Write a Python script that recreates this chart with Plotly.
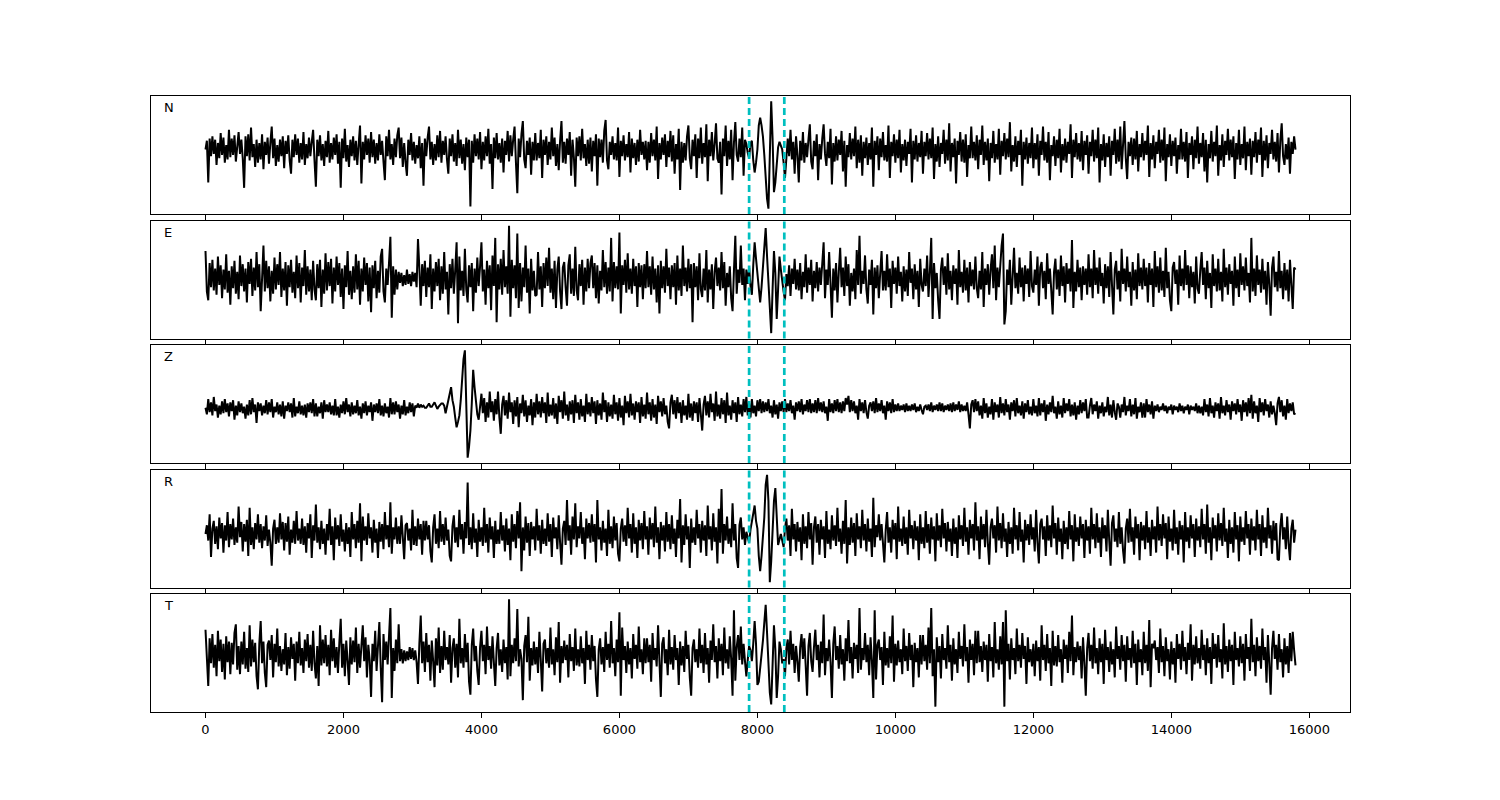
import plotly.graph_objects as go
from plotly.subplots import make_subplots

components = ["N", "E", "Z", "R", "T"]
sample_step = 20
pick_start = 7880
pick_end = 8390
x_ticks = [0, 2000, 4000, 6000, 8000, 10000, 12000, 14000, 16000]
x_tick_labels = ["0", "2000", "4000", "6000", "8000", "10000", "12000", "14000", "16000"]

N_trace = [
    0, 8, -30, 10, -6, 12, -4, 9, -14, 6, -8, 15, -5, 11, -12, 4, -9, 18, -7, 10,
    -5, 13, -11, 7, 16, -4, 9, -8, -35, 12, -6, 14, -10, 20, -7, 5, -16, 9, -12, 6,
    -9, 14, -18, 7, -5, 11, -13, 6, 21, -8, 10, -15, 4, -11, 9, -6, 12, -17, 8, -4,
    13, -10, -22, 9, -7, 14, -5, 10, -12, 6, -9, 16, -14, 5, -8, 11, -6, 7, 18, -10,
    -34, 9, -6, 13, -10, 5, -15, 8, -7, 17, -12, 6, -9, 11, -5, 14, -13, 7, -35, 10,
    -8, 19, -11, 4, -16, 9, -6, 12, -10, 8, -14, 5, 22, -31, 7, -9, 13, -5, 10, -12,
    16, -7, 9, -13, 6, -10, 14, -5, 8, -11, -28, 12, -6, 18, -9, 5, -14, 10, -7, 13,
    20, -8, 11, -16, 6, -12, -24, 9, -5, 15, -10, 7, -13, 4, -8, 12, -17, 6, -33, 10,
    -6, 11, 21, -9, 7, -14, 5, -10, 13, -7, 17, -12, 8, -5, 12, -9, -22, 10, -6, 14,
    -11, 6, -15, 18, -8, 9, -13, 5, -19, 11, -7, 9, -52, 8, -12, 14, -6, 10, -9, 16,
    -18, 7, -10, 12, -6, 19, -13, 5, -36, 11, -8, 15, -9, 6, -12, 10, -21, 8, -5, 17,
    -11, 13, -6, 9, 21, -12, -40, 10, -7, 14, 26, -9, -17, 8, -5, 11, -23, 7, -10, 15,
    -10, 6, -8, 18, -26, 9, -5, 12, -14, 7, -9, 20, -6, 11, -15, 5, -19, 8, 26, -12,
    7, -13, 10, -5, 16, -24, 9, -7, -34, 11, -6, 12, -10, 19, -8, 5, -15, 9, -13, 11,
    -20, 8, -6, 14, -33, 10, -7, 9, -12, 17, 27, -10, -18, 7, -5, 12, -9, 6, -10, 20,
    -25, 8, -6, 13, -10, 5, -7, 16, -21, 10, -8, 6, -14, 9, -11, 18, -5, 7, -9, 8,
    -19, 7, -12, 15, -6, 9, -10, 21, -27, 6, -9, 11, -5, 14, -16, 8, -7, 17, -11, 13,
    -22, 5, -9, 19, -37, 7, -12, 6, -10, 12, 22, -8, -18, 9, -6, 14, -26, 10, -8, 20,
    -13, 6, -7, 23, -29, 9, -6, 16, -10, 5, 24, -8, -12, 7, -41, 10, -6, 22, -15, 8,
    -9, 18, -28, 6, 25, -5, -11, 10, -7, 20, -24, 9, 5, -3, -8, 6, 8, -10, -21, -12,
    0, 22, 29, 22, 12, -5, -25, -45, -54, -5, 44, 10, -39, -30, -10, 2, 7, 4, 0, -12,
    -26, -8, 10, -6, 18, -9, 7, -22, 12, -5, -30, 8, -10, 16, -12, 6, -7, 9, 23, -11,
    -18, 8, -6, 14, -28, 5, -9, 10, 23, -4, -15, 7, -8, 19, -32, 6, -11, 12, -10, 9,
    -5, 17, -20, 8, -34, 4, -7, 15, -9, 10, -6, 21, -17, 9, -12, 13, -24, 7, -8, 11,
    -14, 6, -9, 20, -34, 8, -5, 12, -19, 10, -7, 16, -10, 4, -11, 22, -26, 7, -6, 14,
    -12, 9, -8, 18, -21, 5, -10, 9, -15, 7, -4, 19, -30, 8, -9, 13, -11, 6, -7, 17,
    -22, 7, -6, 15, -9, 10, -8, 20, -27, 5, -11, 12, -16, 6, -4, 18, -13, 9, -10, 24,
    -20, 6, -7, 10, -31, 8, -5, 16, -11, 9, -12, 14, -25, 4, -8, 21, -8, 7, -10, 13,
    -18, 9, -5, 22, -14, 7, -10, 10, -29, 6, -8, 17, -12, 5, -9, 19, -23, 8, -6, 15,
    -9, 10, -7, 25, -20, 4, -11, 12, -16, 8, -5, 18, -33, 7, -9, 11, -13, 6, -8, 20,
    -17, 6, -9, 14, -24, 8, -5, 21, -10, 7, -12, 16, -28, 4, -6, 12, -15, 9, -8, 19,
    -21, 5, -10, 10, -12, 7, -4, 23, -26, 9, -7, 15, -9, 6, -11, 17, -19, 8, -5, 13,
    -22, 7, -6, 18, -11, 9, -8, 20, -30, 5, -10, 14, -16, 6, -7, 12, -24, 8, -5, 19,
    -13, 9, -11, 21, -18, 4, 26, -8, -27, 7, -6, 11, -14, 10, -9, 17, -20, 5, -7, 15,
    -10, 8, -5, 22, -25, 6, -9, 13, -17, 7, -4, 18, -12, 9, -10, 20, -29, 5, -7, 14,
    -15, 8, -6, 11, -22, 4, -9, 19, -9, 7, -11, 16, -26, 6, -5, 12, -18, 9, -8, 21,
    -13, 6, -7, 15, -20, 9, -30, 5, -8, 17, -11, 7, -6, 22, -24, 4, -10, 14, -16, 8,
    -5, 19, -10, 9, -7, 12, -27, 6, -9, 18, -14, 5, -8, 21, -19, 7, -6, 10, -23, 8,
    -7, 16, -12, 9, -5, 20, -25, 8, -10, 13, -17, 6, -4, 18, -9, 7, -11, 15, -21, 8,
    24, -6, -14, 5, -9, 11, -22, 7, -4, 12, 0,
]

E_trace = [
    25, -12, -20, 14, -8, 17, -11, 9, -15, 20, -6, 12, -18, 8, -10, 22, -13, 7, -24, 11,
    -9, 16, -14, 6, -19, 21, -7, 13, -12, 9, -22, 15, -5, 18, -16, 10, -11, 24, -8, 13,
    -30, 8, 30, -12, 16, -9, 11, -21, 7, -14, 19, -10, 13, -6, 24, -17, 9, -11, 15, -25,
    12, -8, 17, -13, 6, -18, 21, -9, 14, -22, 10, -7, 26, -15, 11, -12, 8, -20, 16, -10,
    -20, 13, -9, 17, -26, 8, -14, 23, -11, 15, -7, 18, -23, 10, -12, 20, -6, 14, -17, 9,
    -28, 12, -8, 25, -15, 7, -19, 11, -13, 22, -10, 16, -24, 9, -12, 19, -6, 14, -21, 10,
    -31, 12, -9, 16, -18, 7, -13, 20, 27, -12, -22, 9, -6, 14, 38, -36, 11, -15, 8, -10,
    6, -4, 5, -7, 3, -6, 8, -5, 4, -7, 6, -3, 5, -8, 36, 9, -25, 13, -7, 16,
    -17, 10, -8, 22, -28, 9, -12, 15, -7, 18, -20, 11, -14, 24, -10, 6, -33, 13, -9, 18,
    -14, 8, 33, -41, 20, -11, 7, -16, 27, -10, -22, 12, -8, 14, -30, 9, -13, 19, -7, 11,
    33, -12, 8, -24, 16, -9, 12, -29, 21, -7, 37, -40, 13, -10, 18, -15, 26, -8, 11, -14,
    48, -35, 17, -9, 12, -18, 41, -27, 14, -21, 10, -8, 30, -13, 9, -32, 18, -11, 7, -16,
    -15, 24, -10, 11, -26, 14, -9, 19, -7, 28, -13, 9, -19, 16, -27, 8, 20, -12, -28, 10,
    15, -8, -25, 12, 22, -14, 9, -16, 29, -11, -20, 13, -7, 17, -24, 10, -12, 18, -9, 14,
    21, -9, 14, -18, 12, -23, 7, -11, 26, -8, 15, -14, 10, -12, 37, -21, 15, -9, 11, -10,
    42, -32, 12, -6, 17, -13, 23, -10, 9, -14, 18, -7, 11, -26, 14, -8, 12, -19, 13, -9,
    25, -8, 11, -15, 20, -10, 9, -22, 12, -32, 16, -9, 11, -13, 27, -7, 10, -19, 12, -8,
    14, -24, 21, -11, 9, -16, 30, -7, 10, -12, 18, -9, 13, -40, 14, -8, 11, -20, 23, -10,
    -17, 9, -11, 26, -22, 8, -10, 13, -28, 6, 19, -7, 10, -11, 24, -9, 15, -25, 5, -8,
    11, -18, -30, 7, 39, -14, 8, -4, 30, -6, 9, -20, 8, -5, 10, -7, -15, 12, 33, 18,
    5, -10, -22, -8, 8, 30, 46, 20, -5, -30, -50, -10, 25, 5, -37, -10, 20, 8, -5, -12,
    -20, 4, -7, 12, -16, 9, -5, 18, -10, 8, -11, 14, -19, 6, -8, 22, -13, 10, -6, 17,
    -21, 7, -9, 15, -12, 10, -6, 19, 33, -18, 8, -6, 24, -5, -36, 9, -11, 14, -22, 6,
    28, -8, 10, -16, 20, -7, 13, -25, 5, -12, 9, -19, 26, -6, 39, -14, 7, -5, 21, -10,
    -23, 8, -6, 17, -33, 10, -9, 12, -18, 5, 25, -11, 7, -11, 22, -8, 9, -27, 16, -5,
    10, -14, 20, -7, 6, -21, 11, -12, 8, -16, 24, -4, 9, -19, 13, -10, 7, -26, 18, -6,
    -12, 9, -7, 21, -17, 6, 37, -37, 14, -9, 5, -20, -37, 8, 19, -6, 11, -15, 23, -10,
    7, -20, 12, -5, 9, -24, 26, -8, 6, -13, 17, -11, 10, -22, 15, -7, 8, -10, 20, -9,
    -18, 7, -10, 24, -26, 9, -6, 13, -15, 8, 22, -9, 30, -20, 10, -8, 12, 30, 41, -42,
    -30, 8, -6, 17, -24, 11, 28, -9, 5, -14, 19, -8, 10, -21, 12, -5, 9, -17, 25, -7,
    -13, 8, -6, 20, -25, 10, 15, -9, 7, -19, 23, -5, 9, -11, -33, 6, 18, -10, 8, -16,
    21, -7, 11, -22, 14, -5, 9, -12, 35, -27, 6, -12, 17, -8, 10, -20, 11, -6, 9, -15,
    22, -8, 9, -18, 26, -6, 10, -14, 19, -7, 5, -23, 13, -9, 11, -17, 24, -6, -33, 8,
    16, -10, 7, -21, 27, -5, 9, -12, 20, -8, 6, -25, 15, -11, 8, -19, 23, -7, 10, -10,
    18, -7, 10, -22, 14, -6, 9, -26, 25, -8, 11, -13, 19, -11, 7, -17, 28, -9, 6, -20,
    -30, 10, 15, -5, 8, -24, 21, -7, 9, -11, 26, -6, 12, -18, 11, -8, 6, -23, 20, -9,
    -14, 8, 24, -6, 10, -19, 16, -9, 5, -27, 22, -7, 9, -12, 18, -11, 6, -21, 27, -8,
    10, -15, 13, -5, 7, -25, 20, -9, 8, -17, 23, -6, 11, -11, 19, -7, 5, -22, 37, -12,
    9, -16, 21, -6, 8, -13, 18, -10, 7, -24, 15, -5, -34, 10, 20, -8, 6, -12, 25, -9,
    7, -19, 14, -11, 8, -21, 17, -6, -28, 10, 8,
]

Z_trace = [
    1, -5, 9, -3, 6, -6, 11, -2, 4, -8, 3, -5, 7, -4, 9, -3, 5, -7, 6, -2,
    8, -10, 3, -6, 7, -3, 5, -4, 2, -9, 4, -6, 8, -5, 10, -3, 4, -13, 6, -2,
    5, -6, 3, -4, 8, -5, 6, -3, 9, -8, 2, -3, 6, -5, 4, -7, 7, -9, 3, -2,
    6, -3, 5, -8, 10, -7, 2, -4, 7, -5, 3, -6, 4, -8, 5, -3, 6, -4, 9, -7,
    5, -7, 2, -4, 6, -9, 8, -3, 4, -3, 6, -5, 3, -6, 9, -6, 2, -8, 4, -4,
    7, -5, 10, -3, 4, -7, 6, -5, 3, -4, 8, -6, 2, -9, 5, -4, 7, -6, 3, -3,
    6, -11, 4, -3, 5, -4, 9, -6, 3, -7, 5, -4, 2, -8, 10, -5, 6, -5, 7, -3,
    4, -9, 3, -5, 8, -6, 2, -4, 6, -3, 5, -7, 3, 1, 5, 1, 4, 2, 3, 1,
    1, 3, 5, 2, 2, 4, 6, 3, 0, 2, 4, 5, 5, 3, -4, 2, 8, 12, 20, 8,
    2, -8, -17, -12, -6, 8, 30, 46, 54, 0, -45, -35, -20, 5, 36, 20, 5, -5, -10, 4,
    14, -4, 10, -12, 6, -8, 16, -3, 7, -11, 9, -5, 16, -8, -23, 4, 12, -6, 8, -9,
    15, -3, 6, -14, 8, -7, 11, -17, 5, -4, 13, -7, 8, -12, 3, -6, 9, -15, 6, -8,
    14, -5, 7, -8, 11, -4, 6, -13, 15, -7, 4, -6, 10, -9, 5, -14, 12, -3, 8, -9,
    16, -6, 4, -11, 7, -5, 8, -13, 13, -4, 6, -10, 9, -7, 3, -12, 14, -5, 6, -7,
    11, -4, 7, -14, 8, -6, 5, -10, 15, -3, 8, -12, 6, -7, 4, -9, 13, -5, 6, -11,
    10, -8, 3, -15, 12, -4, 7, -8, 14, -6, 5, -10, 7, -3, 6, -13, 11, -7, 4, -9,
    15, -5, 6, -11, 9, -8, 4, -14, 12, -3, 7, -7, 10, -5, 3, -12, -18, 6, 13, -5,
    8, -9, 11, -4, 6, -13, 8, -6, 3, -10, 14, -8, 5, -11, 7, -4, 6, -12, 10, -5,
    -20, 4, 12, -6, 7, -8, 14, -3, 5, -11, 16, -7, 4, -9, 10, -5, 8, -13, 15, -6,
    3, -10, 8, -4, 6, -12, 11, -5, 4, -7, 9, -3, 11, -6, 5, -8, 9, -4, 3, -7,
    8, -2, 9, -4, 7, -3, 6, -2, 9, -4, 3, -8, 8, -5, 4, -9, 6, -2, 7, -3,
    9, -3, 5, -2, 8, -4, 3, -10, 6, -2, 7, -3, 9, -5, 4, -2, 8, -3, 9, -4,
    5, -3, 8, -4, 10, -2, 6, -3, 7, -4, 2, -11, 9, -3, 5, -4, 8, -2, 9, -3,
    6, -4, 7, -2, 10, 4, 12, -3, 8, -2, 7, -4, 3, -10, 9, -2, 6, -4, 8, -3,
    -9, 3, 6, -2, 7, -4, 10, -3, 5, -2, 8, -4, 3, -10, 7, -2, 6, -4, 9, -3,
    4, -2, 5, -2, 3, -1, 4, -3, 5, -2, 3, -2, 4, -1, 5, -3, 2, -2, 4, -1,
    -5, 2, 3, -1, 4, -2, 6, -3, 3, -1, 4, -2, 6, -2, 5, -3, 3, -1, 4, -2,
    5, -3, 6, -2, 4, -1, 7, -3, 4, -2, 3, -2, 6, -5, -18, 4, 8, -3, 9, -2,
    7, -6, 3, -9, 10, -4, 5, -8, 2, -5, 9, -10, 6, -3, 4, -8, 11, -4, 5, -6,
    9, -3, 4, -10, 6, -2, 8, -7, 10, -4, 3, -6, 7, -9, 5, -3, 8, -5, 2, -6,
    9, -4, 3, -7, 10, -6, 5, -3, 8, -11, 4, -5, 6, -3, 12, -4, 2, -9, 7, -5,
    3, -8, 10, -4, 5, -2, 9, -7, 4, -6, 6, -10, 3, -5, 8, -4, 6, -2, 9, -8,
    -8, 3, 10, -5, 4, -2, 7, -9, 3, -4, 6, -7, 2, -3, 11, -6, 4, -8, 8, -3,
    -10, 5, 2, -8, 4, -3, 11, -6, 3, -2, 9, -7, 4, -5, 10, -9, 2, -3, 6, -8,
    5, -8, 9, -3, 4, -5, 7, -9, 3, -2, 4, -3, 2, -1, 5, -2, 3, -4, 2, -1,
    4, -5, 3, -1, 2, -3, 5, -2, 3, -4, 2, -1, 4, -5, 3, -1, 2, -2, 5, -4,
    3, -4, 2, -6, 9, -3, 4, -7, 10, -4, 3, -8, 6, -2, 5, -9, 11, -4, 3, -6,
    8, -3, 4, -10, 7, -2, 5, -5, 9, -3, 4, -11, 8, -3, 6, -7, 10, -4, 13, -9,
    7, -4, 3, -12, 10, -3, 6, -6, 9, -2, 4, -8, 7, -5, 3, -4, -15, 5, 11, -3,
    8, -7, 3, -10, 9, -4, 5, -2, 6, -5, -4,
]

R_trace = [
    0, 8, -6, 18, -21, 5, 12, -9, 7, -14, 15, -4, 10, -17, 8, -6, 20, -12, 9, -5,
    14, -10, 6, -8, 25, -3, 11, -16, 9, -7, 13, -20, 24, -10, 6, -14, 10, -5, 18, -8,
    9, -13, 7, -6, 17, -11, 4, -8, -29, 5, 13, -9, 6, -8, 19, -5, 11, -15, 10, -7,
    16, -19, 4, -8, 12, -9, 21, -6, 5, -9, 14, -10, 7, -17, 10, -4, 18, -22, 8, -6,
    27, -8, 6, -14, 12, -9, 5, -19, 9, -6, 23, -10, 7, -24, 15, -5, 8, -11, 18, -7,
    4, -16, 10, -9, 6, -21, 20, -5, 9, -13, 12, -8, 28, -25, 16, -6, 7, -10, 19, -4,
    6, -17, 13, -8, 5, -22, 11, -7, 9, -14, 20, -5, 8, -12, 29, -18, 6, -5, 15, -9,
    7, -9, 17, -4, -23, 8, 10, -6, 5, -15, 22, -10, 7, -11, 14, -5, 9, -19, 12, -6,
    12, -5, 8, -16, -26, 6, 18, -9, 5, -13, 21, -7, 9, -10, 15, -6, 4, -20, -25, 7,
    17, -8, 6, -12, 22, -5, 9, -18, 11, -4, 47, -10, 6, -14, 19, -8, 5, -21, 13, -7,
    6, -11, 24, -8, 9, -17, 15, -5, 7, -22, 12, -9, 4, -9, 20, -6, 8, -16, 14, -10,
    5, -24, 18, -7, 9, -13, 21, -4, 29, -34, 6, -15, 16, -8, 10, -20, 11, -5, 7, -15,
    23, -6, 8, -18, 13, -9, 5, -11, 19, -7, 9, -21, 15, -4, 6, -14, 17, -8, -28, 5,
    12, -10, 31, -6, 8, -19, 16, -5, 28, -12, 7, -4, 20, -9, 6, -23, 14, -4, 10, -8,
    18, -7, 9, -26, 31, -5, 6, -15, 12, -8, 5, -20, 22, -9, 7, -13, 16, -6, 10, -18,
    -25, 5, 14, -7, 8, -11, 24, -4, 9, -17, 19, -9, 6, -22, 13, -6, 10, -14, 21, -5,
    7, -19, 15, -5, 10, -12, 25, -8, 6, -23, 11, -6, 8, -16, 20, -7, 9, -14, 17, -9,
    5, -21, 13, -4, 32, -26, 8, -10, 18, -5, 7, -31, 14, -8, 6, -10, 22, -4, 9, -17,
    12, -6, 8, -20, 26, -5, 7, -15, 19, -7, 6, -27, 23, -8, 41, -18, 9, -6, 16, -9,
    5, -12, 28, -6, 9, -22, -31, 8, 15, -5, 6, -10, 2, -3, -8, 4, 12, 18, 26, 12,
    5, -20, -34, -20, -5, 15, 45, 54, 30, -44, -25, 10, 30, 42, 15, -10, -5, 0, -6, -12,
    5, 14, -6, 8, -20, 23, -5, 9, -16, 11, -7, 6, -24, 18, -9, 7, -13, 20, -5, 10,
    -28, 6, 16, -8, 9, -19, 13, -5, 7, -22, 21, -9, 4, -14, 17, -6, 8, -11, 24, -7,
    5, -18, 12, -9, 31, -27, 6, -10, 15, -8, 10, -20, 19, -5, 7, -13, 22, -6, 9, -16,
    14, -7, 5, -21, 33, -12, 8, -3, 18, -6, 9, -15, -26, 4, 20, -8, 6, -17, 13, -5,
    10, -23, 25, -7, 5, -11, 16, -9, 6, -19, 22, -4, 8, -14, 12, -6, 7, -24, 18, -9,
    6, -13, 21, -8, 9, -18, 15, -5, 7, -25, 19, -6, 8, -12, 23, -4, 10, -16, 11, -7,
    5, -20, 14, -9, 6, -22, 17, -5, 8, -11, 24, -7, 6, -19, 13, -4, 9, -15, 29, -6,
    7, -23, 16, -5, 9, -12, 22, -8, -28, 6, 14, -4, 8, -17, 25, -6, 10, -13, 19, -7,
    5, -21, 11, -9, 6, -18, 24, -5, 8, -15, 20, -7, 4, -26, 13, -6, 9, -10, 18, -5,
    6, -16, 22, -8, -27, 9, 14, -5, 7, -20, 17, -6, 8, -12, 26, -4, 10, -19, 15, -7,
    5, -23, 12, -9, 6, -14, 21, -5, 8, -25, 18, -7, 6, -11, 16, -4, 9, -22, 13, -6,
    7, -18, 24, -5, 9, -13, 19, -8, 6, -21, 15, -4, 8, -16, 22, -6, -29, 10, 17, -7,
    5, -12, 20, -9, 6, -15, -27, 5, 14, -8, 23, -7, 6, -19, 16, -4, 9, -24, 11, -6,
    8, -14, 21, -8, 6, -20, 13, -5, 7, -17, 25, -6, 9, -11, 18, -4, 10, -23, 16, -7,
    5, -15, 22, -9, 6, -19, 12, -5, 8, -26, 20, -7, 6, -13, 17, -4, 9, -21, 14, -6,
    7, -12, 23, -5, 9, -18, 27, -8, 6, -24, 15, -4, 8, -16, 19, -6, 10, -11, 24, -7,
    5, -22, 13, -9, 6, -17, 20, -5, 8, -25, 16, -7, 6, -10, 21, -4, 9, -19, 14, -6,
    7, -15, 22, -5, 9, -20, 17, -8, 6, -13, 24, -4, 8, -18, 12, -6, 10, -23, -24, 7,
    19, -5, 6, -14, 16, -9, -24, 5, 13, -8, 4,
]

T_trace = [
    23, -10, -29, 15, -8, 19, -12, 9, -20, 22, -6, 14, -16, 10, -23, 17, -7, 12, -18, 11,
    -9, 20, 28, -14, 8, -18, 12, -9, 21, -13, 6, -16, 27, -11, 14, -7, 11, -20, -32, 10,
    31, -8, 12, -17, -30, 9, 13, -5, 18, -21, 10, -7, 24, -11, 8, -15, 5, -9, 20, -19,
    7, -13, 16, -4, 10, -24, 12, -8, 21, -10, 6, -17, 14, -6, 19, -12, 9, -15, 22, -8,
    -22, 8, -29, 27, -10, 14, -8, 18, -11, 9, -19, 23, -6, 15, -12, 7, -17, 11, 33, -12,
    10, -20, 13, -6, -28, 16, -9, 13, -7, 25, -17, 10, -12, 8, 27, -6, 16, -21, 9, -5,
    -39, 10, -6, 22, -15, 8, 30, -12, -44, 19, -5, 12, -9, 17, 43, -40, 6, -15, 14, -8,
    28, -6, 5, -8, 4, -6, 3, -5, 7, -4, 6, -5, 4, -7, -27, 10, 36, -8, 12, -16,
    20, -7, 9, -24, 13, -6, -30, 15, -10, 25, -17, 8, -14, 22, -5, 7, -9, 18, -26, 6,
    15, -12, 10, -21, 33, -8, 6, -12, 19, -7, 11, -25, -37, 9, 24, -6, 8, -15, -28, 7,
    22, -6, 9, -18, 26, -5, 8, -13, 17, -7, -29, 6, 20, -10, 5, -16, 14, -8, 7, -23,
    51, -20, 9, -8, 15, -6, 42, -11, 5, -4, -42, 8, 18, -7, 35, -24, 6, -10, 12, -9,
    7, -17, 21, -5, -34, 10, 14, -8, 6, -12, 25, -9, 5, -19, 16, -7, 30, -26, 8, -8,
    13, -5, 9, -21, 19, -6, 7, -15, 24, -10, 5, -11, 17, -8, 6, -27, 22, -5, 9, -14,
    18, -6, 8, -23, -39, 5, 15, -9, 7, -16, 21, -5, 10, -12, 31, -8, 6, -20, 14, -7,
    39, -38, 25, -5, 8, -17, 12, -9, 6, -22, 19, -4, 9, -13, 26, -7, 5, -18, 15, -8,
    15, -7, 9, -25, 20, -5, 6, -11, 27, -6, -39, 10, 16, -8, 5, -19, 23, -9, 7, -14,
    18, -5, 6, -28, 12, -10, 8, -16, 22, -4, 9, -21, -38, 6, 14, -7, 5, -12, 24, -8,
    9, -17, 20, -9, 6, -26, 13, -5, 28, -7, 8, -22, 15, -6, 10, -19, 25, -8, 5, -13,
    17, -4, -38, 41, -24, 7, 18, -5, 26, -9, 10, -6, -20, -5, 8, 4, -6, 10, 31, 10,
    -28, -25, -15, 0, 13, 35, 46, 20, -10, -35, -46, -10, 27, 5, -40, -20, 12, 5, -8, -4,
    -20, 6, 14, -9, 22, -5, 10, -17, 8, -6, -25, 7, 19, -4, 15, -10, -38, 8, 20, -6,
    -16, 7, 23, -5, 9, -21, 12, -8, 37, -19, 6, -6, 14, -7, -40, 10, 26, -5, 8, -13,
    18, -9, 5, -24, 15, -6, 32, -8, 7, -22, 11, -4, 9, -17, 43, -14, 6, -5, 20, -7,
    9, -19, 16, -6, -40, 41, -23, 9, 14, -5, 7, -28, 21, -10, 6, -12, 17, -8, 36, -25,
    10, -10, 13, -7, 5, -18, 24, -6, 8, -15, 20, -5, 9, -30, 11, -7, 6, -21, 18, -9,
    18, -6, 9, -14, 25, -8, 43, -20, 5, -48, 16, -7, 8, -22, 19, -5, 6, -13, 27, -7,
    9, -24, 15, -9, 5, -17, 21, -4, 8, -11, 28, -6, 7, -26, 14, -5, 10, -19, 22, -8,
    22, -7, 8, -16, 12, -5, 9, -25, 19, -6, 7, -21, 30, -8, 5, -14, 17, -9, 30, -48,
    41, -6, 10, -23, 15, -5, 6, -18, 24, -6, 9, -12, 20, -4, 8, -27, 16, -7, 5, -11,
    10, -20, 13, -6, 7, -24, 27, -5, 9, -15, 19, -8, 6, -29, 22, -10, 8, -11, 18, -7,
    5, -26, 14, -4, 9, -17, 21, -6, 36, -19, 7, -7, 12, -5, 8, -22, 16, -8, -38, 6,
    20, -6, 9, -13, 25, -8, 6, -18, 15, -7, 10, -27, 23, -5, 7, -16, 12, -9, 5, -21,
    26, -4, 8, -14, 18, -6, 9, -25, 17, -5, 6, -12, 22, -8, 10, -28, 14, -7, 5, -19,
    21, -8, 9, -15, 32, -30, 10, 6, 13, -5, 7, -17, 24, -7, 8, -20, 16, -6, 5, -23,
    12, -9, 6, -26, 19, -4, 10, -14, 22, -6, 7, -18, 11, -5, 28, -24, 9, -9, 17, -8,
    6, -13, 23, -5, 9, -19, 15, -8, 7, -27, 20, -4, 10, -12, 18, -7, 5, -22, 29, -9,
    8, -16, 14, -6, 9, -28, 21, -5, 6, -11, 17, -8, 10, -24, 19, -4, 7, -15, 33, -7,
    9, -20, 16, -6, 8, -13, 24, -5, 7, -26, 18, -8, -37, 6, 22, -4, 9, -14, 19, -7,
    5, -21, 15, -9, 8, -17, 20, -6, 21, 4, -10,
]

traces = [N_trace, E_trace, Z_trace, R_trace, T_trace]

W, H = 1500, 800
body_offset = 8
plot_top, plot_bottom = 96, 712
plot_left, plot_right = 151, 1350
gap = 6.5
plot_h = plot_bottom - plot_top

fig = make_subplots(rows=5, cols=1, shared_xaxes=True, vertical_spacing=gap / plot_h)

axis_font = dict(family="DejaVu Sans, sans-serif", size=13, color="black")

for k, (name, vals) in enumerate(zip(components, traces)):
    row = k + 1
    xs = [sample_step * i for i in range(len(vals))]
    fig.add_trace(
        go.Scatter(x=xs, y=vals, mode="lines",
                   line=dict(color="black", width=2),
                   showlegend=False, hoverinfo="skip"),
        row=row, col=1,
    )
    lo, hi = min(vals), max(vals)
    pad = 0.05 * (hi - lo)
    fig.update_yaxes(range=[lo - pad, hi + pad], showticklabels=False, ticks="",
                     showgrid=False, zeroline=False, showline=True, mirror=True,
                     linecolor="black", linewidth=1, row=row, col=1)
    fig.update_xaxes(range=[-790, 16590], tickvals=x_ticks, ticktext=x_tick_labels,
                     ticks="outside", ticklen=5, tickwidth=1, tickcolor="black",
                     showgrid=False, zeroline=False, showline=True, mirror=True,
                     linecolor="black", linewidth=1, tickfont=axis_font,
                     row=row, col=1)
    xref = "x" if row == 1 else f"x{row}"
    yref = "y" if row == 1 else f"y{row}"
    for xv in (pick_start, pick_end):
        fig.add_shape(type="line", x0=xv, x1=xv, y0=0, y1=1, xref=xref,
                      yref=f"{yref} domain",
                      line=dict(color="#00BFBF", width=2.7, dash="7px,4px"))
    fig.add_annotation(text=name, x=0.009, y=0.9, xref=f"{xref} domain",
                       yref=f"{yref} domain", xanchor="left", yanchor="middle",
                       showarrow=False, font=axis_font)

fig.update_xaxes(showticklabels=True, row=5, col=1)

fig.update_layout(
    width=W, height=H,
    margin=dict(l=plot_left - body_offset, r=W - plot_right + body_offset,
                t=plot_top - body_offset, b=H - plot_bottom + body_offset, pad=0),
    paper_bgcolor="white", plot_bgcolor="white",
    font=axis_font,
    showlegend=False,
)

fig.write_html("out.html")
